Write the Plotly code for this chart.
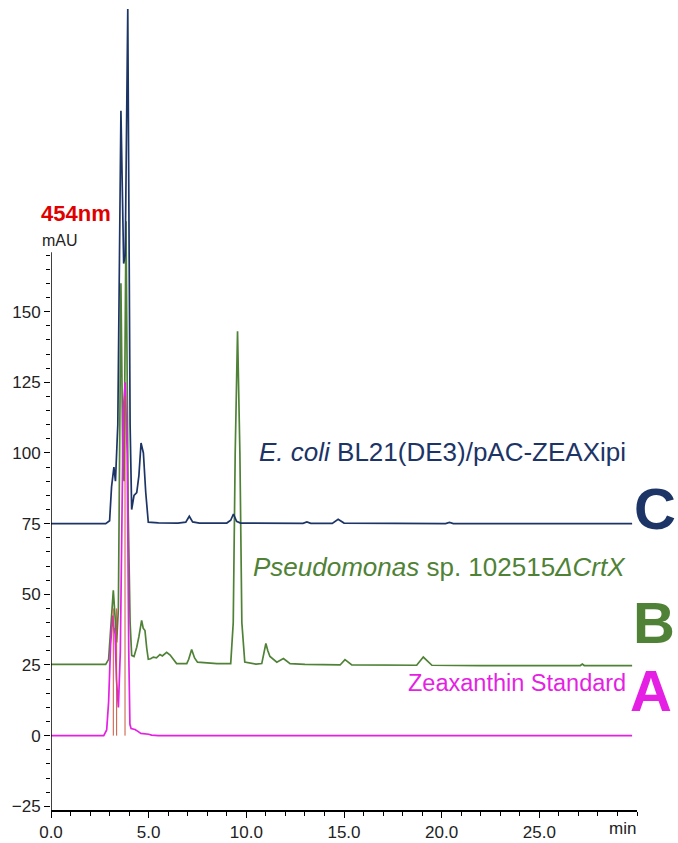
import plotly.graph_objects as go

# ---------------- data ----------------
time_C = [0, 2.8, 3.0, 3.1, 3.22, 3.3, 3.42, 3.58, 3.72, 3.8, 3.93, 4.05, 4.13, 4.25, 4.39, 4.5,
          4.61, 4.68, 4.73, 4.85, 4.98, 5.5, 6.5, 6.9, 7.08, 7.25, 7.6, 9.0, 9.2, 9.34, 9.5, 9.7,
          11.0, 12.9, 13.1, 13.3, 14.4, 14.7, 15.0, 20.2, 20.4, 20.6, 29.75]
val_C = [75, 75, 76, 88, 95, 90, 110, 221, 167, 170, 257, 110, 80, 85, 86, 92,
         103.5, 100.5, 100, 86, 75.5, 75.3, 75.2, 75.5, 77.6, 75.6, 75.2, 75.2, 76.2, 78.4, 75.8, 75.2,
         75.1, 75.1, 75.6, 75.1, 75.1, 76.5, 75.2, 75.0, 75.4, 75.0, 75.0]

time_B = [0, 2.8, 2.95, 3.1, 3.19, 3.3, 3.36, 3.45, 3.58, 3.68, 3.74, 3.84, 3.95, 4.05, 4.13, 4.25,
          4.39, 4.5, 4.64, 4.72, 4.81, 4.9, 4.98, 5.1, 5.24, 5.4, 5.58, 5.7, 5.92, 6.1, 6.43, 6.95,
          7.05, 7.2, 7.35, 7.5, 8.5, 9.2, 9.33, 9.43, 9.55, 9.67, 9.77, 9.92, 10.5, 10.79, 10.9, 11.0,
          11.1, 11.21, 11.56, 11.9, 12.24, 13.0, 14.8, 15.05, 15.4, 16.5, 18.72, 19.06, 19.5, 22.0,
          25.0, 27.1, 27.2, 27.3, 29.75]
val_B = [25.2, 25.2, 27, 42, 51.4, 40, 33, 45, 160, 95, 90, 182, 80, 40, 28.4, 28,
         31.3, 35, 40.8, 38, 37.2, 31, 27, 27.2, 27.8, 27.5, 28.7, 28.2, 29.5, 28.5, 25.5, 25.5,
         27, 30.5, 27.5, 26, 25.5, 25.5, 40, 100, 143, 100, 40, 26, 25.3, 25.5, 29, 32.6,
         30, 28, 26, 27.3, 25.5, 25.2, 25.0, 26.9, 25.0, 25.0, 24.9, 27.8, 24.9, 24.8,
         24.8, 24.8, 25.3, 24.8, 24.8]

time_A = [0, 2.7, 2.85, 2.95, 3.05, 3.16, 3.22, 3.28, 3.35, 3.45, 3.55, 3.62, 3.7, 3.8, 3.9,
          3.98, 4.04, 4.1, 4.3, 4.45, 4.6, 5.0, 5.15, 5.5, 29.75]
val_A = [0, 0, 2, 12, 32, 42.5, 38, 36, 20, 10, 30, 70, 115, 125, 100,
         30, 4, 2.5, 2.2, 1.5, 0.8, 0.5, 0.2, 0, 0]

# peak delimiter markers on the standard trace
marker_times = [3.19, 3.36, 3.79]
marker_heights = [45, 45, 120]

x_tick_vals = [0, 5, 10, 15, 20, 25, 30]
x_tick_text = ["0.0", "5.0", "10.0", "15.0", "20.0", "25.0", ""]
y_tick_vals = [-25, 0, 25, 50, 75, 100, 125, 150]
y_minor_vals = [v for v in range(-25, 171, 5)]
x_minor_vals = [v for v in range(0, 31)]

NAVY = "#1c3466"
GREEN = "#4f8236"
MAGENTA = "#e51fe3"
RED = "#c8553d"

# ---------------- geometry helpers (pixels -> paper) ----------------
W, H = 678, 843
ML, MR, MT, MB = 51, 41, 5, 33
PW, PH = W - ML - MR, H - MT - MB


def px(xp):
    return (xp - ML) / PW


def py(yp):
    return (H - MB - yp) / PH


fig = go.Figure()

fig.add_trace(go.Scatter(x=time_B, y=val_B, mode="lines",
                         line=dict(color=GREEN, width=1.7), hoverinfo="skip", showlegend=False))
fig.add_trace(go.Scatter(x=time_C, y=val_C, mode="lines",
                         line=dict(color=NAVY, width=1.7), hoverinfo="skip", showlegend=False))
fig.add_trace(go.Scatter(x=time_A, y=val_A, mode="lines",
                         line=dict(color=MAGENTA, width=1.7), hoverinfo="skip", showlegend=False))

mx, my = [], []
for t, h in zip(marker_times, marker_heights):
    mx += [t, t, None]
    my += [0, h, None]
fig.add_trace(go.Scatter(x=mx, y=my, mode="lines", line=dict(color=RED, width=1),
                         hoverinfo="skip", showlegend=False))

Y_BOTTOM = -26.3
Y_TOP = Y_BOTTOM + PH / 2.827

# y axis line only up to ~171
fig.add_shape(type="line", xref="x", yref="y", x0=0, x1=0, y0=Y_BOTTOM, y1=171,
              line=dict(color="black", width=1.5))

fig.update_xaxes(range=[0, 30], showline=True, linecolor="black", linewidth=1.5,
                 showgrid=False, zeroline=False, ticks="outside", ticklen=6, tickwidth=1,
                 tickcolor="black", tickmode="array", tickvals=x_tick_vals, ticktext=x_tick_text,
                 tickfont=dict(family="Liberation Sans, Arial", size=17, color="#222"),
                 automargin=False,
                 minor=dict(tickmode="array", tickvals=x_minor_vals, ticks="outside",
                            ticklen=4, tickcolor="black", tickwidth=1))
fig.update_yaxes(range=[Y_BOTTOM, Y_TOP], showline=False, showgrid=False, zeroline=False,
                 ticks="outside", ticklen=6, tickwidth=1, tickcolor="black",
                 tickmode="array", tickvals=y_tick_vals,
                 tickfont=dict(family="Liberation Sans, Arial", size=17, color="#222"),
                 automargin=False,
                 minor=dict(tickmode="array", tickvals=y_minor_vals, ticks="outside",
                            ticklen=4, tickcolor="black", tickwidth=1))

ann = []


def add_text(text, xpix, ypix, size, color, bold=False, xanchor="center"):
    ann.append(dict(text=text, x=px(xpix), y=py(ypix), xref="paper", yref="paper",
                    xanchor=xanchor, yanchor="middle", showarrow=False,
                    font=dict(family="Liberation Sans, Arial", size=size, color=color,
                              weight="bold" if bold else "normal")))


add_text("454nm", 76, 213, 22, "#e00000", bold=True)
add_text("mAU", 60, 240, 16, "#222")
add_text("min", 622, 828, 17, "#222")
add_text("<i>E. coli</i> BL21(DE3)/pAC-ZEAXipi", 628, 452, 26, NAVY, xanchor="right")
add_text("<i>Pseudomonas</i> sp. 102515<i>ΔCrtX</i>", 628, 567, 26, GREEN, xanchor="right")
add_text("Zeaxanthin Standard", 628, 683, 23.5, MAGENTA, xanchor="right")
add_text("C", 655, 508, 58, NAVY, bold=True)
add_text("B", 654, 622, 58, GREEN, bold=True)
add_text("A", 651, 690, 58, MAGENTA, bold=True)

fig.update_layout(width=W, height=H, margin=dict(l=ML, r=MR, t=MT, b=MB, autoexpand=False),
                  paper_bgcolor="white", plot_bgcolor="white", annotations=ann,
                  showlegend=False)

fig.write_html("out.html", config={"displayModeBar": False},
               post_script="document.body.style.margin='0';document.body.style.overflow='hidden';")
